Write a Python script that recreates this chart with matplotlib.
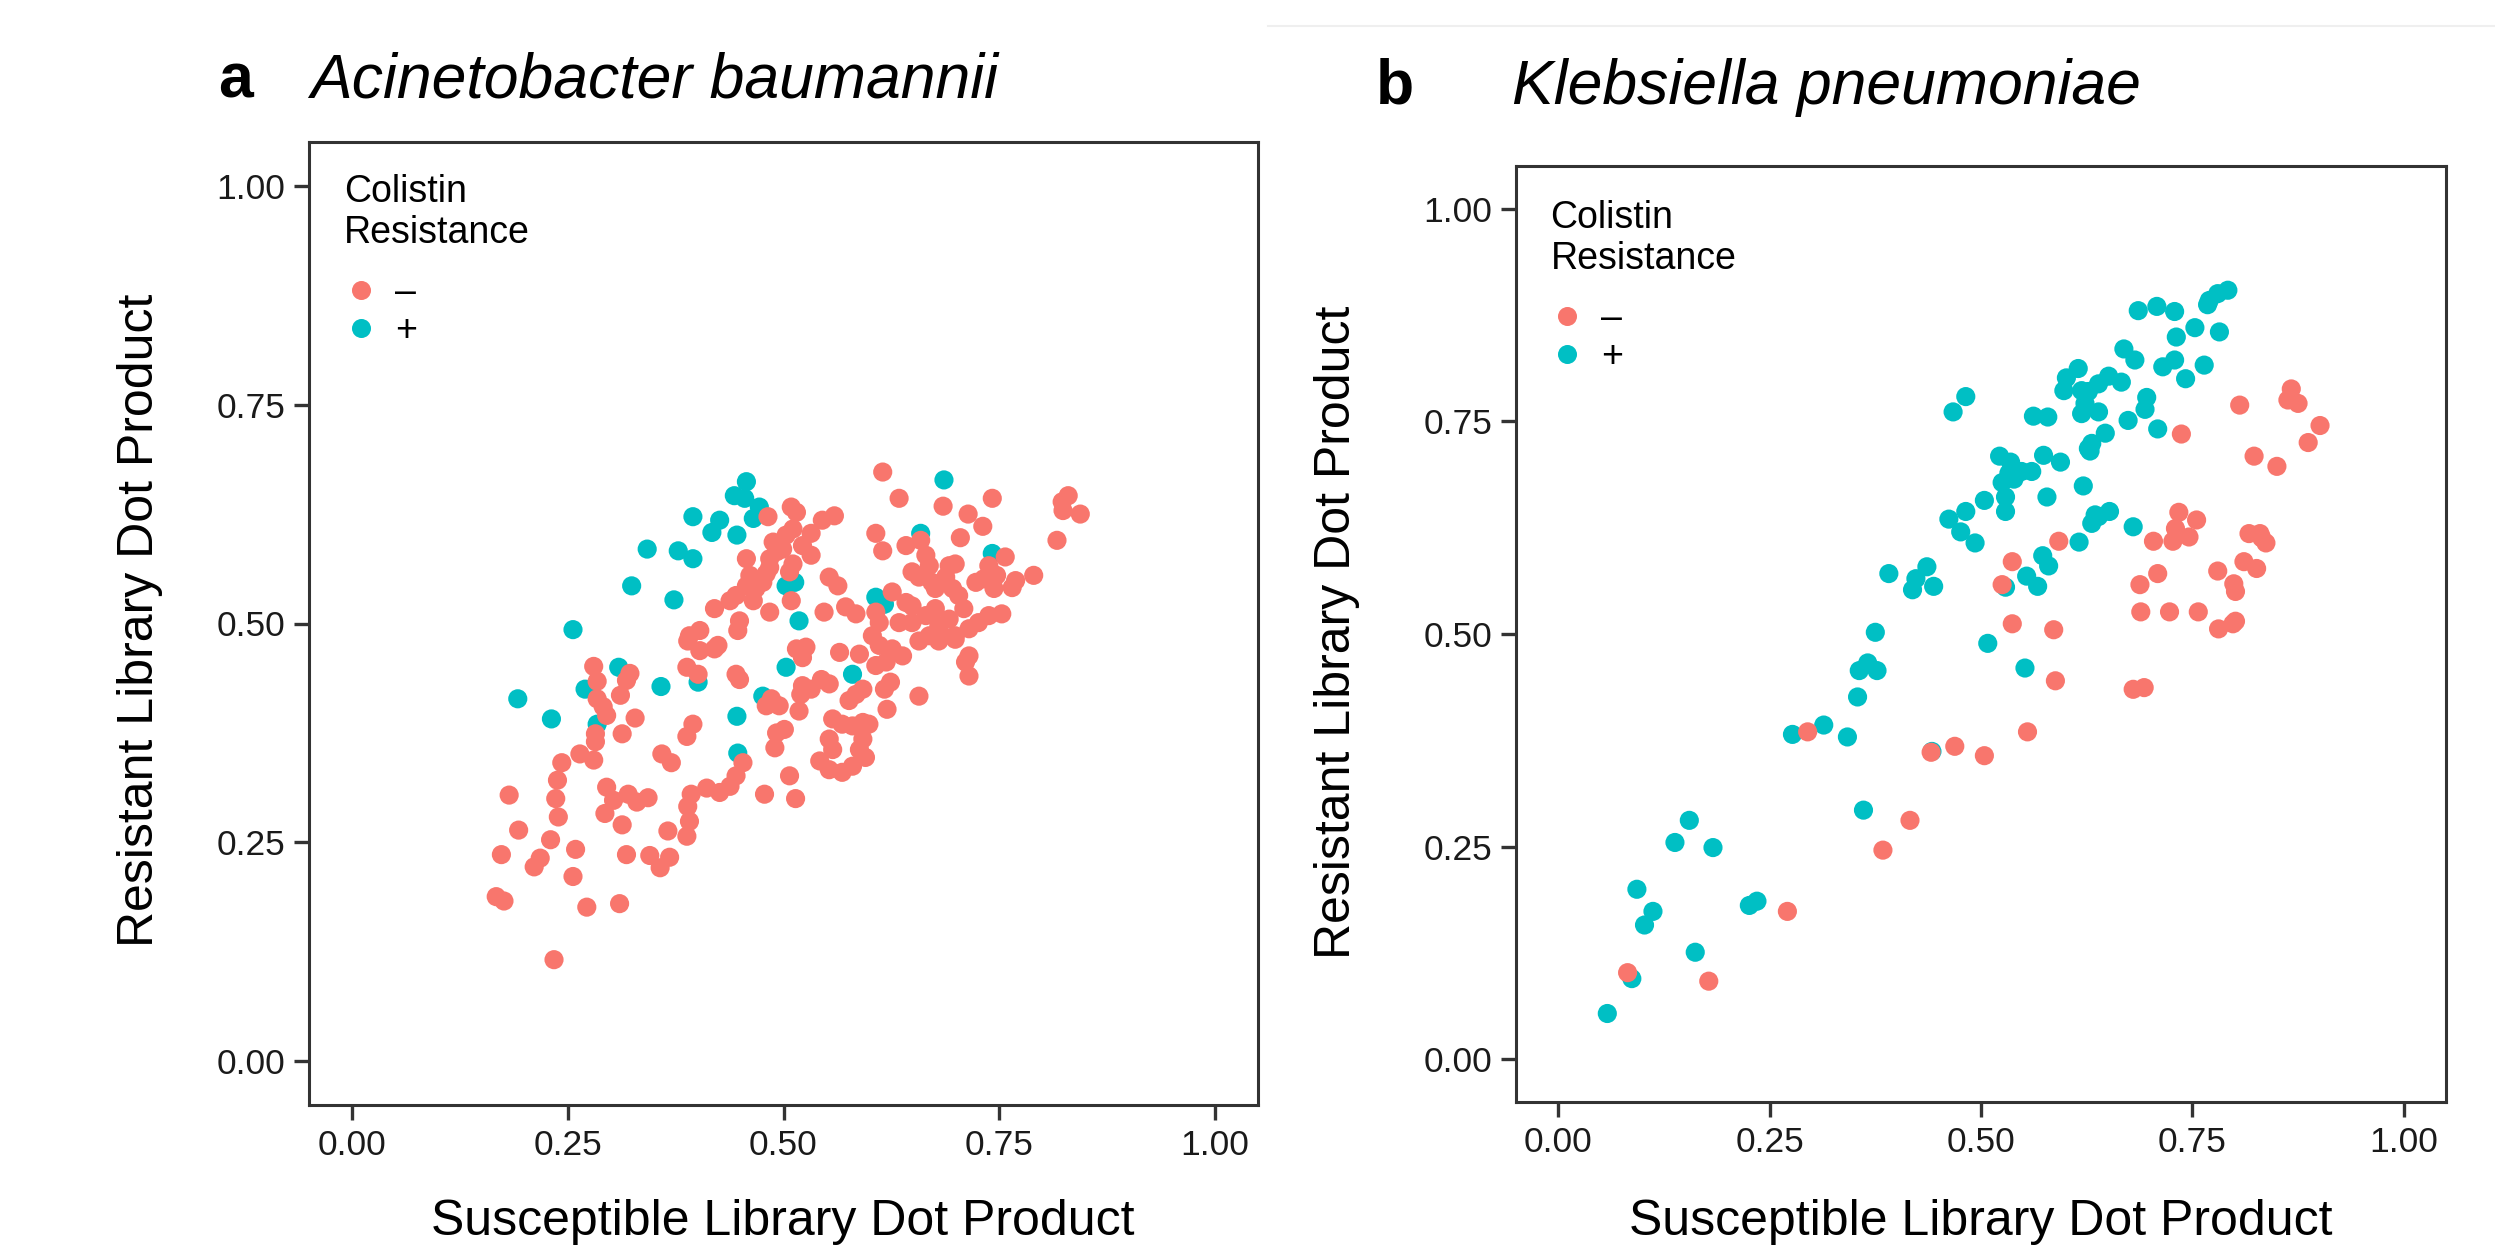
import matplotlib
matplotlib.use("Agg")
import matplotlib.pyplot as plt
from matplotlib.lines import Line2D

plt.rcParams['font.family'] = ['Liberation Sans', 'DejaVu Sans']

RED = '#F8766D'
CYAN = '#00BFC4'

# ---------------- Panel a: Acinetobacter baumannii ----------------
a_neg_x = [0.280, 0.284, 0.322, 0.318, 0.311, 0.284, 0.291, 0.295, 0.328, 0.282,
           0.282, 0.313, 0.264, 0.280, 0.243, 0.238, 0.295, 0.320, 0.303, 0.330,
           0.236, 0.182, 0.239, 0.293, 0.313, 0.193, 0.230, 0.259, 0.173, 0.318,
           0.218, 0.211, 0.256, 0.167, 0.176, 0.272, 0.310, 0.234,
           0.345, 0.357, 0.368, 0.343,
           0.389, 0.403, 0.420, 0.424, 0.388, 0.401, 0.445, 0.449, 0.515, 0.526,
           0.522, 0.565, 0.588, 0.486, 0.495, 0.480, 0.518, 0.522, 0.532, 0.544,
           0.553, 0.520, 0.584, 0.592, 0.576, 0.395, 0.388, 0.492, 0.501, 0.490,
           0.557, 0.568, 0.580, 0.592, 0.599, 0.553, 0.557, 0.542, 0.553, 0.568,
           0.580, 0.588, 0.592, 0.595, 0.359, 0.370, 0.453, 0.445, 0.438, 0.426,
           0.411, 0.393, 0.389, 0.391, 0.507, 0.478, 0.514, 0.366, 0.388,
           0.482, 0.509, 0.515, 0.545, 0.559, 0.488, 0.503, 0.511, 0.532, 0.522,
           0.532, 0.484, 0.492, 0.499, 0.457, 0.511, 0.507, 0.484, 0.480, 0.476,
           0.461, 0.457, 0.468, 0.553, 0.563, 0.445, 0.438, 0.509, 0.465, 0.420,
           0.484, 0.547, 0.572, 0.584, 0.449, 0.447, 0.391, 0.403,
           0.615, 0.634, 0.685, 0.742, 0.714, 0.731, 0.705, 0.830, 0.823, 0.824,
           0.844, 0.817, 0.607, 0.615, 0.642, 0.659, 0.665, 0.649, 0.657, 0.669,
           0.692, 0.699, 0.688, 0.676, 0.672, 0.723, 0.732, 0.744, 0.747, 0.738,
           0.757, 0.769, 0.765, 0.790, 0.703, 0.696, 0.709, 0.626, 0.642, 0.649,
           0.607, 0.611, 0.603, 0.634, 0.649, 0.665, 0.676, 0.680, 0.692, 0.699,
           0.715, 0.726, 0.738, 0.753, 0.669, 0.684,
           0.611, 0.626, 0.619, 0.638, 0.607, 0.657, 0.680, 0.699, 0.715, 0.711,
           0.715, 0.624, 0.617, 0.657, 0.620]
a_neg_y = [0.451, 0.434, 0.443, 0.435, 0.418, 0.414, 0.405, 0.395, 0.392, 0.374,
           0.365, 0.374, 0.351, 0.344, 0.341, 0.321, 0.313, 0.305, 0.298, 0.296,
           0.300, 0.304, 0.279, 0.283, 0.270, 0.264, 0.253, 0.242, 0.236, 0.236,
           0.232, 0.222, 0.211, 0.188, 0.183, 0.176, 0.180, 0.116,
           0.235, 0.221, 0.233, 0.301,
           0.480, 0.469, 0.471, 0.475, 0.450, 0.442, 0.442, 0.436, 0.471, 0.473,
           0.461, 0.467, 0.465, 0.414, 0.406, 0.406, 0.400, 0.429, 0.425, 0.436,
           0.431, 0.419, 0.419, 0.425, 0.412, 0.385, 0.371, 0.375, 0.379, 0.358,
           0.391, 0.385, 0.383, 0.387, 0.385, 0.368, 0.356, 0.343, 0.333, 0.330,
           0.337, 0.356, 0.368, 0.347, 0.351, 0.341, 0.341, 0.326, 0.314, 0.307,
           0.312, 0.305, 0.291, 0.274, 0.326, 0.305, 0.300, 0.263, 0.257,
           0.622, 0.633, 0.627, 0.618, 0.623, 0.593, 0.601, 0.608, 0.603, 0.589,
           0.578, 0.574, 0.582, 0.585, 0.574, 0.568, 0.559, 0.564, 0.557, 0.547,
           0.555, 0.543, 0.540, 0.553, 0.543, 0.532, 0.526, 0.526, 0.526, 0.517,
           0.513, 0.513, 0.519, 0.511, 0.503, 0.492, 0.486, 0.492,
           0.673, 0.643, 0.634, 0.643, 0.625, 0.611, 0.598, 0.646, 0.639, 0.629,
           0.625, 0.595, 0.603, 0.583, 0.589, 0.595, 0.578, 0.559, 0.553, 0.566,
           0.566, 0.568, 0.553, 0.540, 0.547, 0.547, 0.551, 0.540, 0.555, 0.566,
           0.576, 0.549, 0.541, 0.555, 0.532, 0.540, 0.517, 0.536, 0.524, 0.520,
           0.513, 0.501, 0.486, 0.501, 0.501, 0.509, 0.517, 0.497, 0.505, 0.486,
           0.494, 0.501, 0.509, 0.511, 0.486, 0.486,
           0.475, 0.471, 0.456, 0.463, 0.452, 0.480, 0.480, 0.482, 0.463, 0.456,
           0.440, 0.433, 0.425, 0.417, 0.402]

a_pos_x = [0.457, 0.443, 0.455, 0.472, 0.465, 0.395, 0.426, 0.417, 0.446, 0.342,
           0.378, 0.395, 0.324, 0.373, 0.503, 0.513, 0.518, 0.686, 0.659, 0.742,
           0.607, 0.617, 0.358, 0.401, 0.503, 0.580, 0.476, 0.446, 0.447, 0.256,
           0.309, 0.192, 0.231, 0.270, 0.284]
a_pos_y = [0.662, 0.646, 0.643, 0.633, 0.620, 0.622, 0.618, 0.604, 0.601, 0.585,
           0.583, 0.574, 0.543, 0.527, 0.543, 0.547, 0.503, 0.664, 0.603, 0.580,
           0.530, 0.522, 0.428, 0.433, 0.450, 0.442, 0.417, 0.394, 0.352, 0.493,
           0.450, 0.414, 0.391, 0.425, 0.385]

# ---------------- Panel b: Klebsiella pneumoniae ----------------
b_neg_x = [0.082, 0.178, 0.271, 0.295, 0.384, 0.416,
           0.689, 0.723, 0.757, 0.781, 0.798, 0.801, 0.801, 0.799, 0.780, 0.811,
           0.826, 0.688, 0.709, 0.704, 0.727, 0.730, 0.734, 0.746, 0.755, 0.817,
           0.830, 0.837, 0.832, 0.680, 0.693,
           0.806, 0.737, 0.867, 0.863, 0.875, 0.901, 0.887, 0.823, 0.850,
           0.592, 0.537, 0.525, 0.537, 0.586, 0.588, 0.555, 0.469, 0.441, 0.504]
b_neg_y = [0.102, 0.092, 0.174, 0.385, 0.246, 0.281,
           0.526, 0.526, 0.526, 0.506, 0.512, 0.515, 0.550, 0.559, 0.574, 0.585,
           0.577, 0.558, 0.571, 0.609, 0.609, 0.624, 0.643, 0.614, 0.634, 0.618,
           0.618, 0.607, 0.613, 0.435, 0.437,
           0.769, 0.735, 0.788, 0.775, 0.771, 0.745, 0.725, 0.709, 0.697,
           0.609, 0.585, 0.558, 0.512, 0.505, 0.445, 0.385, 0.368, 0.361, 0.357]

b_pos_x = [0.058, 0.087, 0.093, 0.112, 0.102, 0.138, 0.155, 0.183, 0.162, 0.226,
           0.235, 0.361, 0.277, 0.314,
           0.482, 0.467, 0.562, 0.579, 0.615, 0.601, 0.598, 0.619, 0.619, 0.627,
           0.574, 0.594, 0.522, 0.535, 0.533, 0.548, 0.560, 0.525, 0.539, 0.529,
           0.529, 0.504, 0.482, 0.462, 0.578, 0.621,
           0.686, 0.708, 0.729, 0.770, 0.780, 0.792, 0.768, 0.753, 0.782, 0.731,
           0.669, 0.682, 0.715, 0.729, 0.764, 0.742, 0.651, 0.639, 0.666, 0.627,
           0.623, 0.639, 0.696, 0.694, 0.674, 0.709, 0.647, 0.631, 0.629, 0.635,
           0.652, 0.680,
           0.476, 0.493, 0.391, 0.436, 0.423, 0.419, 0.444, 0.375, 0.366, 0.356,
           0.377, 0.354, 0.342, 0.573, 0.580, 0.554, 0.567, 0.529, 0.616, 0.631,
           0.639, 0.508, 0.552, 0.442]
b_pos_y = [0.054, 0.095, 0.200, 0.174, 0.158, 0.255, 0.281, 0.249, 0.126, 0.181,
           0.186, 0.293, 0.382, 0.393,
           0.779, 0.761, 0.756, 0.755, 0.812, 0.801, 0.786, 0.786, 0.759, 0.718,
           0.710, 0.702, 0.709, 0.702, 0.689, 0.691, 0.691, 0.678, 0.682, 0.661,
           0.644, 0.657, 0.644, 0.635, 0.661, 0.674,
           0.880, 0.885, 0.879, 0.892, 0.900, 0.904, 0.887, 0.860, 0.855, 0.849,
           0.835, 0.822, 0.814, 0.822, 0.816, 0.800, 0.803, 0.794, 0.796, 0.785,
           0.771, 0.761, 0.778, 0.764, 0.751, 0.741, 0.736, 0.724, 0.715, 0.640,
           0.644, 0.626,
           0.620, 0.607, 0.571, 0.579, 0.565, 0.552, 0.556, 0.502, 0.466, 0.457,
           0.457, 0.426, 0.379, 0.592, 0.580, 0.568, 0.556, 0.555, 0.608, 0.630,
           0.638, 0.489, 0.460, 0.362]

ticks = [0.0, 0.25, 0.5, 0.75, 1.0]
tick_labels = ['0.00', '0.25', '0.50', '0.75', '1.00']
legend_title = 'Colistin\nResistance'
legend_labels = ['\u2013', '+']
xlabel = 'Susceptible Library Dot Product'
ylabel = 'Resistant Library Dot Product'

W, H = 2495, 1246
fig = plt.figure(figsize=(W / 100, H / 100), dpi=100)

def frac(l, t, r, b):
    return [l / W, 1 - b / H, (r - l) / W, (b - t) / H]

ax_a = fig.add_axes(frac(309, 142, 1258, 1105))
ax_b = fig.add_axes(frac(1516, 166, 2446, 1102))

MS = 190
for ax, px, py, nx, ny, legy in [(ax_a, a_pos_x, a_pos_y, a_neg_x, a_neg_y, 0.967),
                                 (ax_b, b_pos_x, b_pos_y, b_neg_x, b_neg_y, 0.964)]:
    ax.scatter(px, py, s=MS, color=CYAN, edgecolors='none', zorder=2)
    ax.scatter(nx, ny, s=MS, color=RED, edgecolors='none', zorder=3)
    ax.set_xlim(-0.05, 1.05)
    ax.set_ylim(-0.05, 1.05)
    ax.set_xticks(ticks)
    ax.set_xticklabels(tick_labels)
    ax.set_yticks(ticks)
    ax.set_yticklabels(tick_labels)
    ax.tick_params(direction='out', length=11, width=2.4, color='#333333',
                   labelsize=25.5, labelcolor='#1a1a1a', pad=6)
    for sp in ax.spines.values():
        sp.set_color('#333333')
        sp.set_linewidth(2.2)
    handles = [Line2D([], [], marker='o', linestyle='none', markersize=13.7,
                      markerfacecolor=RED, markeredgecolor='none'),
               Line2D([], [], marker='o', linestyle='none', markersize=13.7,
                      markerfacecolor=CYAN, markeredgecolor='none')]
    leg = ax.legend(handles, legend_labels, title=legend_title, loc='upper left',
                    bbox_to_anchor=(0.037, legy), frameon=False, fontsize=27,
                    title_fontsize=27, alignment='left', borderpad=0,
                    borderaxespad=0, handlelength=0.9, handletextpad=0.45,
                    labelspacing=0.05)
    leg._legend_box.sep = 17

# axis titles
fig.text(783 / W, 1 - 1222 / H, xlabel, ha='center', va='center', fontsize=36)
fig.text(1981 / W, 1 - 1222 / H, xlabel, ha='center', va='center', fontsize=36)
fig.text(140 / W, 1 - 620 / H, ylabel, ha='center', va='center', rotation=90, fontsize=36)
fig.text(1337 / W, 1 - 632 / H, ylabel, ha='center', va='center', rotation=90, fontsize=36)

# panel titles
fig.text(218 / W, 1 - 97 / H, 'a', ha='left', va='baseline', fontsize=45, fontweight='bold')
fig.text(310 / W, 1 - 97 / H, 'Acinetobacter baumannii', ha='left', va='baseline',
         fontsize=45, fontstyle='italic')
fig.text(1376 / W, 1 - 104 / H, 'b', ha='left', va='baseline', fontsize=45, fontweight='bold')
fig.text(1512 / W, 1 - 104 / H, 'Klebsiella pneumoniae', ha='left', va='baseline',
         fontsize=45, fontstyle='italic')

# faint line at the top of the right half
fig.add_artist(Line2D([1268 / W, 1.0], [1 - 26 / H, 1 - 26 / H],
                      transform=fig.transFigure, color='#efefef', linewidth=1.5))

fig.savefig('out.png', dpi=100)
